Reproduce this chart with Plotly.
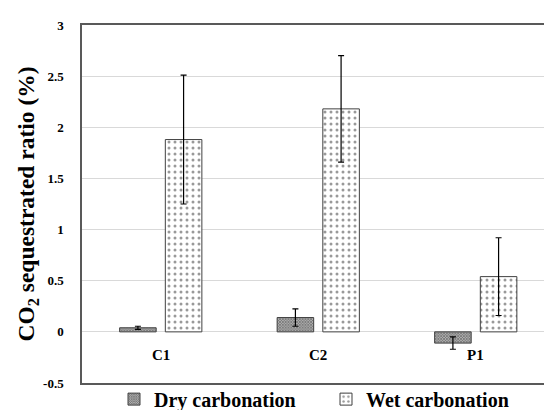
import plotly.graph_objects as go

categories = ["C1", "C2", "P1"]
dry_values = [0.04, 0.14, -0.11]
dry_errors = [0.015, 0.085, 0.06]
wet_values = [1.88, 2.18, 0.54]
wet_errors = [0.63, 0.52, 0.38]
y_ticks = [-0.5, 0, 0.5, 1, 1.5, 2, 2.5, 3]
y_tick_labels = ["-0.5", "0", "0.5", "1", "1.5", "2", "2.5", "3"]

FONT = "Liberation Serif"
DARK = "#404040"

fig = go.Figure()
fig.add_trace(go.Bar(
    name="<b>Dry carbonation</b>", x=categories, y=dry_values,
    error_y=dict(type="data", array=dry_errors, color="#000000", thickness=1.2, width=3),
    marker=dict(color="#8a8a8a", line=dict(color=DARK, width=1),
                pattern=dict(shape="x", size=2, solidity=0.6,
                             fgcolor="#2a2a2a", bgcolor="#b0b0b0")),
))
fig.add_trace(go.Bar(
    name="<b>Wet carbonation</b>", x=categories, y=wet_values,
    error_y=dict(type="data", array=wet_errors, color="#000000", thickness=1.2, width=3),
    marker=dict(color="white", line=dict(color=DARK, width=1),
                pattern=dict(shape=".", size=6, solidity=0.2,
                             fgcolor="#333333", bgcolor="white")),
))

for c in categories:
    fig.add_annotation(x=c, y=0, xref="x", yref="y", text="<b>%s</b>" % c,
                       showarrow=False, yanchor="top", yshift=-13,
                       font=dict(family=FONT, size=15, color="#000000"))

plot_w = 544 - 82
cat_px = 157.5
x_hi = -0.5 + plot_w / cat_px

fig.update_layout(
    width=544, height=410,
    margin=dict(l=82, r=0, t=25, b=27, autoexpand=False),
    paper_bgcolor="white", plot_bgcolor="white",
    barmode="group", bargap=0.42, bargroupgap=0.2,
    font=dict(family=FONT, color="#000000"),
    showlegend=True,
    legend=dict(orientation="h", x=(114 - 82) / 462, xanchor="left", y=-0.045, yanchor="middle",
                bgcolor="rgba(0,0,0,0)",
                font=dict(family=FONT, size=20, color="#000000"),
                itemwidth=30, traceorder="normal",
                entrywidth=167, entrywidthmode="pixels"),
    xaxis=dict(range=[-0.5, x_hi], showticklabels=False, showgrid=False,
               zeroline=False, showline=True, linecolor="#595959", linewidth=1.5,
               mirror=True, ticks="", automargin=False),
    yaxis=dict(range=[-0.5, 3], tickvals=y_ticks, automargin=False,
               ticktext=["<b>%s</b>" % t for t in y_tick_labels],
               tickfont=dict(family=FONT, size=13, color="#000000"),
               showgrid=True, gridcolor="#d9d9d9", gridwidth=1,
               zeroline=True, zerolinecolor="#d9d9d9", zerolinewidth=1,
               showline=True, linecolor="#595959", linewidth=1.5, mirror=False,
               ticks="outside", ticklen=14, tickcolor="rgba(0,0,0,0)",
               title=dict(text="<b>CO<sub>2</sub> sequestrated ratio (%)</b>",
                          font=dict(family=FONT, size=23.5, color="#000000"),
                          standoff=2)),
)

fig.write_html("out.html", config={"displayModeBar": False},
               post_script="document.body.style.margin='0';document.body.style.overflow='hidden';")
